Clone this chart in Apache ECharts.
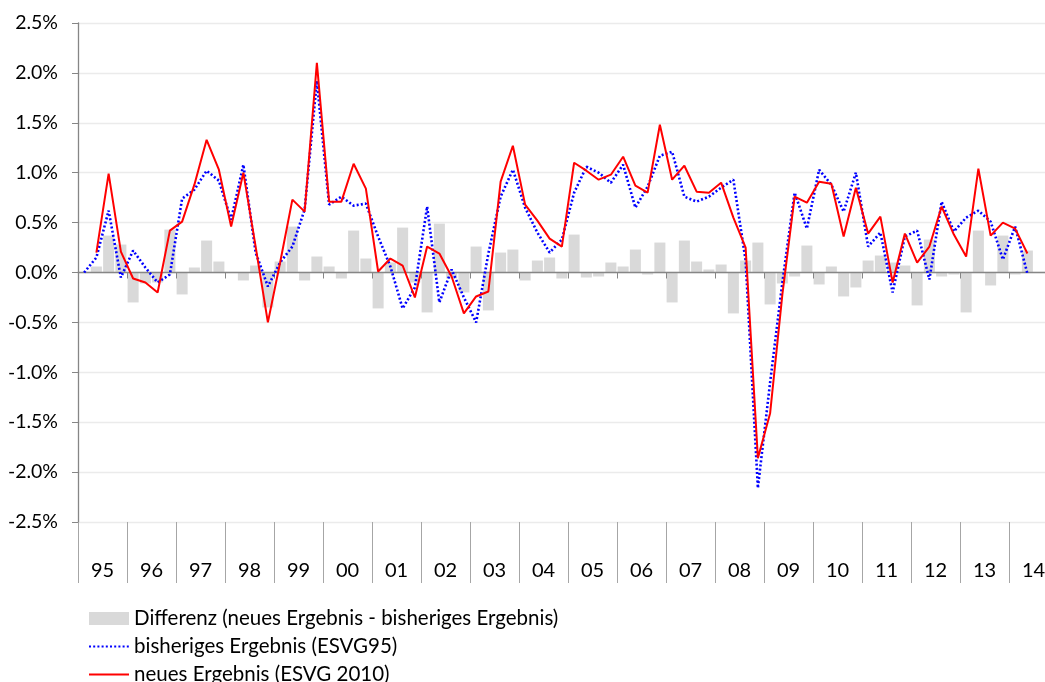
<!DOCTYPE html>
<html>
<head>
<meta charset="utf-8">
<script src="https://cdn.jsdelivr.net/npm/echarts@6/dist/echarts.min.js"></script>
<style>
  html, body { margin: 0; padding: 0; background: #fff; width: 1045px; height: 682px; overflow: hidden; }
  /* etwas breiter/hoeher als das Fenster: das letzte Jahr ist rechts abgeschnitten */
  #chart { width: 1058px; height: 720px; }
</style>
</head>
<body>
<div id="chart"></div>
<script>
// Quartale 1995 Q1 - 2014 Q4 (Daten bis 2014 Q2)
var years = ['95', '96', '97', '98', '99', '00', '01', '02', '03', '04',
             '05', '06', '07', '08', '09', '10', '11', '12', '13', '14'];
var quarterNames = ['Q1', 'Q2', 'Q3', 'Q4'];

// Differenz (neues Ergebnis - bisheriges Ergebnis), in %
var differenz = [
    null, 0.06, 0.37, 0.28, -0.30, -0.11, -0.10, 0.43, -0.22, 0.05,
    0.32, 0.11, 0.00, -0.08, 0.07, -0.35, 0.11, 0.46, -0.08, 0.16,
    0.06, -0.06, 0.42, 0.14, -0.36, 0.10, 0.45, -0.10, -0.40, 0.49,
    -0.06, -0.20, 0.26, -0.38, 0.20, 0.23, -0.08, 0.12, 0.15, -0.06,
    0.38, -0.05, -0.04, 0.10, 0.06, 0.23, -0.02, 0.30, -0.30, 0.32,
    0.11, 0.03, 0.08, -0.41, 0.12, 0.30, -0.32, -0.11, -0.04, 0.27,
    -0.12, 0.06, -0.24, -0.15, 0.12, 0.17, 0.10, 0.07, -0.33, 0.33,
    -0.04, -0.02, -0.40, 0.42, -0.13, 0.37, -0.02, 0.22
];

// bisheriges Ergebnis (ESVG95), in %
var bisher = [
    0.00, 0.15, 0.62, -0.05, 0.22, 0.05, -0.10, -0.02, 0.74, 0.83,
    1.02, 0.92, 0.53, 1.08, 0.20, -0.14, 0.10, 0.26, 0.63, 1.92,
    0.68, 0.76, 0.67, 0.69, 0.36, 0.06, -0.36, -0.15, 0.66, -0.30,
    0.03, -0.25, -0.50, 0.19, 0.76, 1.03, 0.65, 0.40, 0.20, 0.33,
    0.80, 1.06, 1.00, 0.90, 1.08, 0.65, 0.86, 1.17, 1.21, 0.76,
    0.71, 0.76, 0.85, 0.93, 0.12, -2.16, -1.10, -0.10, 0.80, 0.44,
    1.03, 0.88, 0.61, 1.00, 0.26, 0.40, -0.20, 0.36, 0.42, -0.07,
    0.71, 0.41, 0.55, 0.62, 0.51, 0.13, 0.46, -0.01
];

// neues Ergebnis (ESVG 2010), in %
var neu = [
    null, 0.20, 0.99, 0.21, -0.06, -0.10, -0.20, 0.42, 0.51, 0.88,
    1.33, 1.03, 0.46, 1.00, 0.26, -0.50, 0.10, 0.73, 0.61, 2.10,
    0.71, 0.71, 1.09, 0.84, 0.01, 0.14, 0.07, -0.25, 0.26, 0.19,
    -0.04, -0.41, -0.24, -0.19, 0.91, 1.27, 0.68, 0.52, 0.34, 0.26,
    1.10, 1.02, 0.93, 0.98, 1.16, 0.87, 0.80, 1.48, 0.93, 1.07,
    0.81, 0.80, 0.90, 0.55, 0.25, -1.86, -1.41, -0.22, 0.76, 0.70,
    0.91, 0.89, 0.36, 0.85, 0.39, 0.56, -0.10, 0.39, 0.10, 0.26,
    0.66, 0.38, 0.16, 1.04, 0.37, 0.50, 0.44, 0.19
];

var yTicks = [-2.5, -2.0, -1.5, -1.0, -0.5, 0.0, 0.5, 1.0, 1.5, 2.0, 2.5];

var quarters = [];
years.forEach(function (y) {
    quarterNames.forEach(function (q) { quarters.push(y + q); });
});

var yearStarts = [], yearMids = [];
years.forEach(function (y, i) {
    yearStarts.push(i * 4);
    yearMids.push(i * 4 + 2);
});
yearStarts.push(years.length * 4);

var font = 'Lato, "Open Sans", sans-serif';
var chart = echarts.init(document.getElementById('chart'));

chart.setOption({
    animation: false,
    textStyle: { fontFamily: font },
    grid: { left: 78, top: 23, right: 0, bottom: 198 },
    legend: {
        orient: 'vertical',
        left: 88,
        top: 608,
        padding: 0,
        itemWidth: 40,
        itemHeight: 13,
        itemGap: 7,
        textStyle: { fontSize: 20.5, color: '#000', fontFamily: font },
        data: [
            { name: 'Differenz (neues Ergebnis - bisheriges Ergebnis)', icon: 'rect' },
            { name: 'bisheriges Ergebnis (ESVG95)', itemStyle: { opacity: 0 } },
            { name: 'neues Ergebnis (ESVG 2010)', itemStyle: { opacity: 0 } }
        ]
    },
    xAxis: [
        {
            // Nulllinie mit Quartalsstrichen
            type: 'category',
            data: quarters,
            z: 3,
            axisLine: { onZero: true, lineStyle: { color: '#868686', width: 1.3 } },
            axisTick: { show: true, length: 6, lineStyle: { color: '#868686' } },
            axisLabel: { show: false },
            splitLine: { show: false }
        },
        {
            // Quartalsstriche unten
            type: 'category',
            data: quarters,
            position: 'bottom',
            axisLine: { show: false, onZero: false },
            axisTick: { show: true, length: 20, lineStyle: { color: '#c4c4c4' } },
            axisLabel: { show: false },
            splitLine: { show: false }
        },
        {
            // Jahresstriche und Jahreszahlen
            type: 'value',
            min: 0,
            max: years.length * 4,
            position: 'bottom',
            axisLine: { show: false, onZero: false },
            axisTick: { show: true, length: 61, customValues: yearStarts, lineStyle: { color: '#a6a6a6' } },
            axisLabel: {
                show: true,
                customValues: yearMids,
                margin: 39,
                fontSize: 20,
                color: '#000',
                fontFamily: font,
                formatter: function (v) { return years[Math.floor(v / 4)]; }
            },
            splitLine: { show: false }
        }
    ],
    yAxis: {
        type: 'value',
        min: yTicks[0],
        max: yTicks[yTicks.length - 1],
        interval: 0.5,
        axisLine: { show: true, lineStyle: { color: '#868686', width: 1.3 } },
        axisTick: { show: true, length: 6, lineStyle: { color: '#868686' } },
        axisLabel: {
            fontSize: 19.5,
            color: '#000',
            margin: 20,
            fontFamily: font,
            formatter: function (v) { return v.toFixed(1) + '%'; }
        },
        splitLine: { lineStyle: { color: '#ebebeb', width: 1.3 } }
    },
    series: [
        {
            name: 'Differenz (neues Ergebnis - bisheriges Ergebnis)',
            type: 'bar',
            data: differenz,
            barCategoryGap: '10%',
            itemStyle: { color: '#d9d9d9' },
            z: 1
        },
        {
            name: 'bisheriges Ergebnis (ESVG95)',
            type: 'line',
            data: bisher,
            symbol: 'none',
            z: 4,
            itemStyle: { color: '#0000ff' },
            lineStyle: { color: '#0000ff', width: 2.6, type: [2, 2.2] }
        },
        {
            name: 'neues Ergebnis (ESVG 2010)',
            type: 'line',
            data: neu,
            symbol: 'none',
            z: 5,
            itemStyle: { color: '#ff0000' },
            lineStyle: { color: '#ff0000', width: 2 }
        }
    ]
});
</script>
</body>
</html>
